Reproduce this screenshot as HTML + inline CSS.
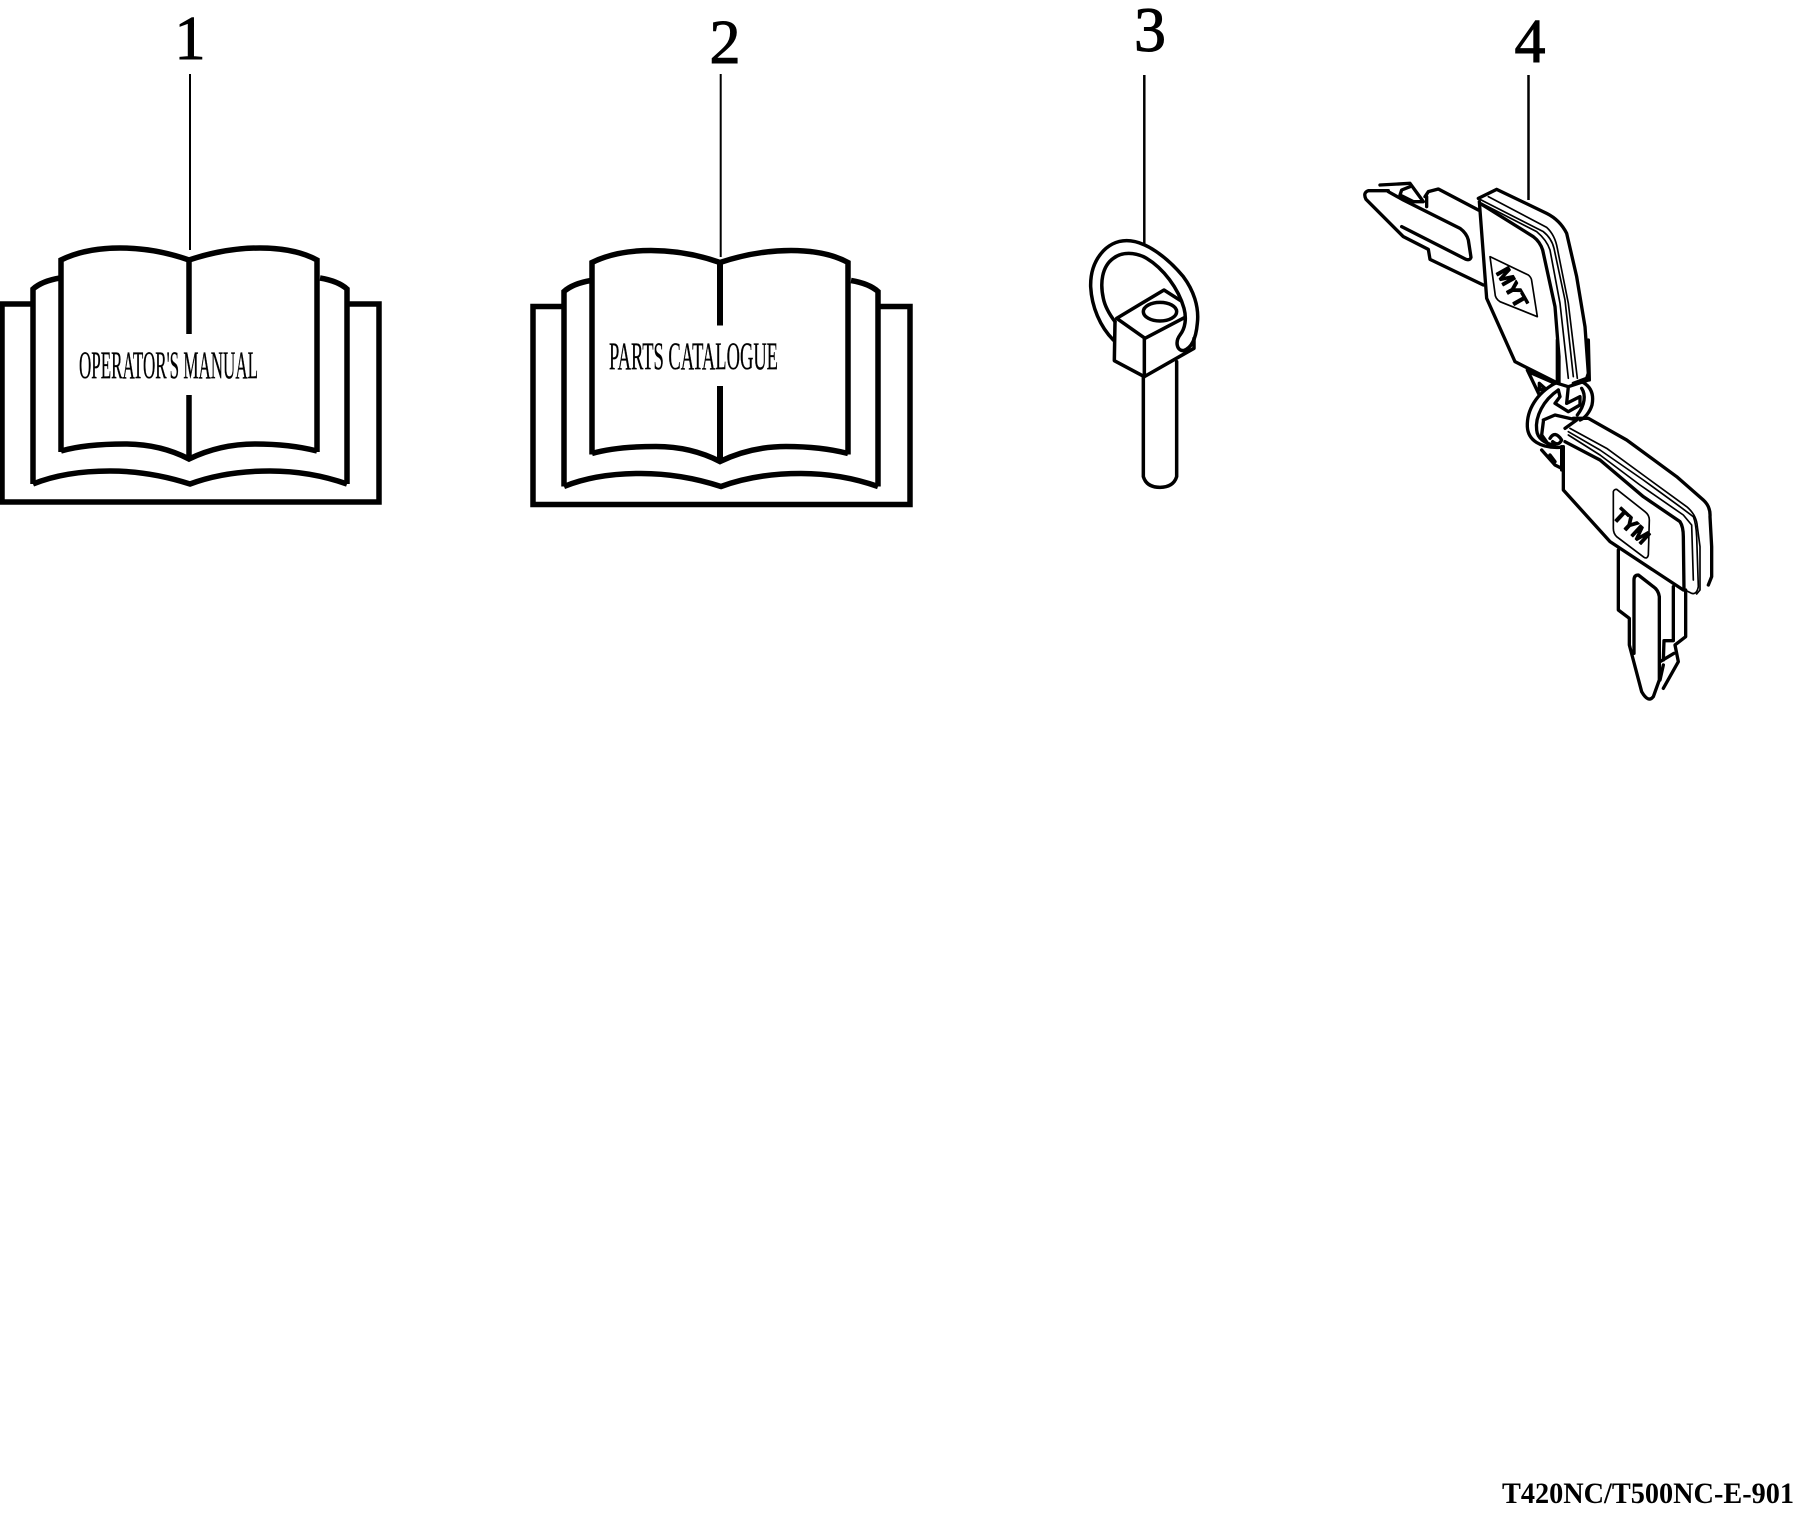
<!DOCTYPE html>
<html>
<head>
<meta charset="utf-8">
<style>
html,body{margin:0;padding:0;background:#fff;}
svg{display:block;}
text{font-family:"Liberation Serif",serif;fill:#000;}
.n{stroke:#000;stroke-width:1;}
.t{stroke:#000;stroke-width:.3;}
.b{fill:none;stroke:#000;stroke-width:5.5;stroke-linejoin:miter;}
.k{fill:none;stroke:#000;stroke-linejoin:round;stroke-linecap:round;}
.s{font-family:"Liberation Sans",sans-serif;font-weight:bold;stroke:#000;stroke-width:4;}
</style>
</head>
<body>
<svg width="1796" height="1516" viewBox="0 0 1796 1516" xmlns="http://www.w3.org/2000/svg">
<rect width="1796" height="1516" fill="#fff"/>

<!-- Item 1 -->
<text class="n" x="190" y="59" font-size="62" text-anchor="middle">1</text>
<line x1="190" y1="74" x2="190" y2="250" stroke="#000" stroke-width="2"/>
<g class="b">
<path d="M32,304 H2 V502 H379 V304 H348"/>
<path d="M33,484 V289 Q42,281 60,278 M320,278 Q338,281 347,289 V484"/>
<path d="M33,484 Q65,471 110,471 Q150,471 190,484 Q225,471 270,471 Q310,471 347,484"/>
<path d="M61,452 V260 Q85,248 120,248 Q155,248 189,260 Q225,248 260,248 Q295,248 317,260 V452"/>
<path d="M61,451 Q85,444 125,444 Q160,444 189,459 Q220,444 255,444 Q290,444 317,451"/>
<path d="M189,260 V334 M189,395 V459"/>
</g>
<text class="t" x="79" y="378" font-size="39" textLength="179" lengthAdjust="spacingAndGlyphs">OPERATOR'S MANUAL</text>

<!-- Item 2 -->
<text class="n" x="725" y="63" font-size="62" text-anchor="middle">2</text>
<line x1="720.7" y1="74" x2="720.7" y2="257" stroke="#000" stroke-width="2"/>
<g class="b" transform="translate(531,2.5)">
<path d="M32,304 H2 V502 H379 V304 H348"/>
<path d="M33,484 V289 Q42,281 60,278 M320,278 Q338,281 347,289 V484"/>
<path d="M33,484 Q65,471 110,471 Q150,471 190,484 Q225,471 270,471 Q310,471 347,484"/>
<path d="M61,452 V260 Q85,248 120,248 Q155,248 189,260 Q225,248 260,248 Q295,248 317,260 V452"/>
<path d="M61,451 Q85,444 125,444 Q160,444 189,459 Q220,444 255,444 Q290,444 317,451"/>
<path d="M189,262 V323 M189,383.5 V459" stroke-width="6"/>
</g>
<text class="t" x="609" y="369" font-size="39" textLength="169" lengthAdjust="spacingAndGlyphs">PARTS CATALOGUE</text>

<!-- Item 3 -->
<text class="n" x="1150" y="51" font-size="64" text-anchor="middle">3</text>
<line x1="1144.3" y1="75" x2="1144.3" y2="245" stroke="#000" stroke-width="2.5"/>
<g class="k" transform="translate(1080,230) scale(0.33333)" stroke-width="10.5">
<path d="M100,330 C60,290 35,230 32,170 C30,90 80,32 140,32 C195,32 260,80 310,140 C340,180 358,230 352,280 C348,325 335,355 310,362 C290,362 285,335 300,315 C316,295 320,265 312,235 C295,175 250,115 200,85 C165,65 125,65 100,85 C65,110 60,160 70,205 C75,230 90,255 105,275"/>
<path d="M110,265 L252,180 L302,212 M110,265 L195,325 L315,262 M105,275 L103,392 L193,440 L193,325 M193,440 L342,355 L342,325"/>
<ellipse cx="240" cy="245" rx="50" ry="28"/>
<path d="M190,440 V740 Q200,772 240,772 Q280,772 290,740 V395"/>
</g>

<!-- Item 4 -->
<text class="n" x="1530" y="62" font-size="62" text-anchor="middle">4</text>
<line x1="1528.5" y1="75" x2="1528.5" y2="200" stroke="#000" stroke-width="2.5"/>

<!-- upper key -->
<g class="k" transform="translate(1360,170) scale(0.33333)" stroke-width="10">
<path d="M85,62 L25,62 Q8,68 18,88 L130,200 L205,238 L210,268 L370,345"/>
<path d="M85,65 L130,90 L300,175 Q320,190 325,210 L333,262 Q330,272 318,268 L125,170"/>
<path d="M195,80 L205,65 L235,57 L355,120 M200,80 L200,110"/>
<path d="M60,45 L150,40 L190,95 L160,95 L120,75 L125,60 L150,50"/>
<path d="M355,85 L410,58 L560,130 Q600,150 620,190 L650,320 L675,470 L685,610 L680,625 L640,640"/>
<path d="M358,95 L380,385 L465,575 L590,638"/>
<path d="M360,100 L520,200 Q540,215 548,240 L585,410 L597,560 L597,640"/>
<path stroke-width="5" d="M360,88 L550,185 Q575,205 582,235 L615,390 L640,620"/>
<path stroke-width="5" d="M365,100 L530,185 Q560,210 570,240 L600,400 L625,625"/>
<path stroke-width="5" d="M385,80 L560,172 Q585,195 592,235 L625,400 L652,625"/>
<path stroke-width="5" d="M390,260 L505,315 Q514,322 515,332 L532,440 L420,395 Q405,385 405,370 Z"/>
<text class="s" font-size="60" text-anchor="middle" textLength="128" lengthAdjust="spacingAndGlyphs" transform="translate(457,352) rotate(60.5) scale(-1,1) translate(0,21)">TYM</text>
</g>

<!-- connecting rings -->
<g class="k" transform="translate(1500,340) scale(0.33333)" stroke-width="10">
<path d="M172,0 L172,130 M265,0 L268,120"/>
<path d="M82,90 L118,165 M85,95 L165,130 M118,130 L135,145 L118,150 Z"/>
<path d="M165,130 C110,160 80,210 82,260 C84,300 120,325 180,322"/>
<path d="M175,150 C130,180 105,230 110,270 C112,295 135,312 165,315"/>
<path d="M245,125 C275,140 282,165 276,195 C270,215 255,235 240,240"/>
<path d="M245,145 C258,165 255,195 232,225"/>
<path d="M172,130 L205,140 L265,120 M205,140 L200,190 L240,170 L240,195 L205,215 L165,190 L180,170 L175,150"/>
<path d="M130,240 L165,225 L230,240 L195,265"/>
<path d="M130,245 L125,285 L150,320"/>
<path d="M150,295 Q165,270 185,300 Q175,320 158,305"/>
<path d="M125,330 L165,375 L185,385 M185,320 L185,390 M150,345 L165,365"/>
</g>

<!-- lower key -->
<g class="k" transform="translate(1520,400) scale(0.33333)" stroke-width="10">
<path d="M160,55 L205,55 L320,120 L470,230 L550,300 Q572,320 570,350 L575,440 L575,530 L565,555"/>
<path d="M135,125 L240,180 L370,290 L480,365 Q490,380 490,410 L492,570"/>
<path d="M130,140 L130,270 L270,425 L490,570"/>
<path stroke-width="5" d="M145,95 L240,150 L370,240 L480,320 L520,350 Q528,370 530,410 L535,560 Q530,585 515,580 L495,570"/>
<path stroke-width="5" d="M150,85 L260,145 L390,240 L500,320 Q530,345 532,380 L540,440 L540,570 L530,582"/>
<path stroke-width="5" d="M145,105 L240,165 L360,255 L490,345 L515,375 L520,540"/>
<path stroke-width="5" d="M280,275 Q282,268 290,268 L375,335 Q388,345 388,360 L385,465 Q382,478 372,472 L290,410 Q280,400 280,385 Z"/>
<text class="s" font-size="60" text-anchor="middle" textLength="124" lengthAdjust="spacingAndGlyphs" transform="translate(335,378) rotate(43) translate(0,21)">TYM</text>
<path d="M295,450 L295,630 L328,655 L328,735 L365,875 Q385,910 400,890 L418,840 L418,590 Q415,570 400,560 L355,525 Q342,525 342,540 L342,760"/>
<path d="M460,560 L460,722 L432,722 L430,780 M497,570 L497,710 L465,735 L475,785 L430,865"/>
<path d="M420,785 L462,760 M430,795 L420,840"/>
</g>

<!-- footer -->
<text x="1502" y="1503" font-size="30" font-weight="bold" textLength="292" lengthAdjust="spacingAndGlyphs">T420NC/T500NC-E-901</text>
</svg>
</body>
</html>
